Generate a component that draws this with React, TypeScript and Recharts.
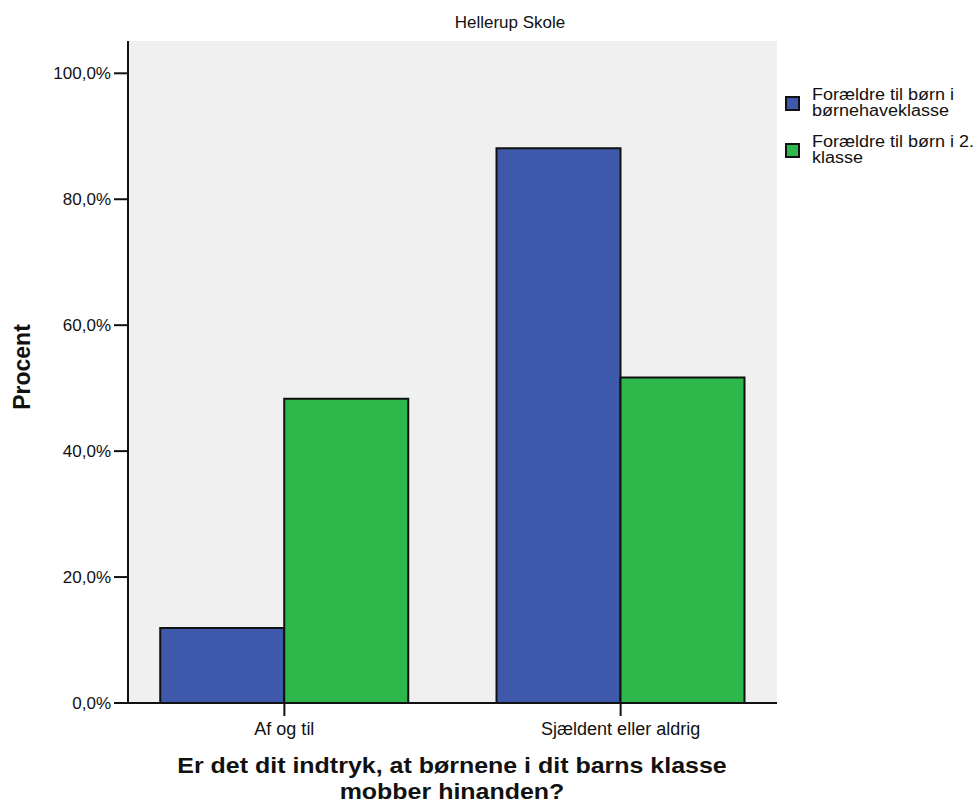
import React from "react";
import {
  BarChart,
  Bar,
  XAxis,
  YAxis,
  CartesianGrid,
  Legend,
} from "recharts";

// Data
const categories = ["Af og til", "Sjældent eller aldrig"];
const boernehaveklasse = [11.9, 88.1];
const andenKlasse = [48.3, 51.7];
const seriesNames = [
  "Forældre til børn i børnehaveklasse",
  "Forældre til børn i 2. klasse",
];
const yTicks = [0, 20, 40, 60, 80, 100];
const chartTitle = "Hellerup Skole";
const yTitle = "Procent";
const xTitle = ["Er det dit indtryk, at børnene i dit barns klasse", "mobber hinanden?"];

const FONT = '"Liberation Sans", Arial, sans-serif';
const BLUE = "#3e58ac";
const GREEN = "#2eb84b";

const data = categories.map((name, i) => ({
  pos: i + 1,
  name,
  bh: boernehaveklasse[i],
  k2: andenKlasse[i],
}));

const fmtPct = (v: number) => v.toFixed(1).replace(".", ",") + "%";

const LegendBox = (props: any) => {
  // keep the series order, not the alphabetical one
  const items = [...(props.payload || [])].sort(
    (a: any, b: any) => seriesNames.indexOf(a.value) - seriesNames.indexOf(b.value)
  );
  return (
    <div style={{ fontFamily: FONT, fontSize: 16, lineHeight: "16px", color: "#111" }}>
      {items.map((it: any) => (
        <div
          key={it.value}
          style={{ display: "flex", alignItems: "center", marginBottom: 15 }}
        >
          <div
            style={{
              width: 15,
              height: 15,
              boxSizing: "border-box",
              border: "2px solid #111",
              background: it.color,
              marginRight: 12,
              flexShrink: 0,
            }}
          />
          <div style={{ width: 152, transform: "scaleX(1.125)", transformOrigin: "left center" }}>
            {it.value}
          </div>
        </div>
      ))}
    </div>
  );
};

export default function App() {
  return (
    <div
      style={{
        position: "absolute",
        left: 0,
        top: 0,
        width: 979,
        height: 810,
        background: "#fff",
        fontFamily: FONT,
      }}
    >
      <div
        style={{
          position: "absolute",
          left: 510,
          top: 14,
          transform: "translateX(-50%)",
          fontSize: 17,
          lineHeight: "17px",
          whiteSpace: "nowrap",
          color: "#111",
        }}
      >
        {chartTitle}
      </div>
      <div
        style={{
          position: "absolute",
          left: 22,
          top: 367,
          transform: "translate(-50%, -50%) rotate(-90deg)",
          fontSize: 23,
          lineHeight: "23px",
          fontWeight: "bold",
          whiteSpace: "nowrap",
          color: "#111",
        }}
      >
        {yTitle}
      </div>
      <div
        style={{
          position: "absolute",
          left: 452,
          top: 753,
          transform: "translateX(-50%) scaleX(1.135)",
          fontSize: 22,
          lineHeight: "26px",
          fontWeight: "bold",
          textAlign: "center",
          whiteSpace: "nowrap",
          color: "#111",
        }}
      >
        {xTitle.map((t) => (
          <div key={t}>{t}</div>
        ))}
      </div>

      <BarChart
        width={979}
        height={810}
        data={data}
        margin={{ top: 41, right: 202, bottom: 67, left: 48 }}
        barGap={0}
        style={{ position: "absolute", left: 0, top: 0 }}
      >
        <CartesianGrid fill="#f0f0f0" horizontal={false} vertical={false} />
        <XAxis
          dataKey="pos"
          type="number"
          domain={[0.535, 2.465]}
          ticks={[1, 2]}
          allowDataOverflow
          tickFormatter={(v: number) => categories[v - 1] ?? ""}
          height={40}
          tickSize={13}
          tickMargin={6}
          axisLine={{ stroke: "#111", strokeWidth: 2 }}
          tickLine={{ stroke: "#111", strokeWidth: 2 }}
          tick={{ fill: "#111", fontSize: 18, fontFamily: FONT }}
        />
        <XAxis
          xAxisId="top"
          orientation="top"
          dataKey="pos"
          type="number"
          domain={[0.535, 2.465]}
          allowDataOverflow
          height={0}
          tick={false}
          tickLine={false}
          axisLine={{ stroke: "#6e6e6e", strokeWidth: 2 }}
        />
        <YAxis
          domain={[0, 105.13]}
          ticks={yTicks}
          allowDataOverflow
          tickFormatter={fmtPct}
          width={80}
          tickSize={14}
          tickMargin={3}
          axisLine={{ stroke: "#111", strokeWidth: 2 }}
          tickLine={{ stroke: "#111", strokeWidth: 2 }}
          tick={{ fill: "#111", fontSize: 17, fontFamily: FONT }}
        />
        <YAxis
          yAxisId="right"
          orientation="right"
          width={0}
          tick={false}
          tickLine={false}
          axisLine={{ stroke: "#111", strokeWidth: 2 }}
        />
        <Legend
          layout="vertical"
          align="center"
          verticalAlign="middle"
          content={<LegendBox />}
          wrapperStyle={{ left: 785, top: 87, width: 194, height: "auto" }}
        />
        <Bar
          dataKey="bh"
          name={seriesNames[0]}
          fill={BLUE}
          stroke="#111"
          strokeWidth={2}
          barSize={124}
          isAnimationActive={false}
        />
        <Bar
          dataKey="k2"
          name={seriesNames[1]}
          fill={GREEN}
          stroke="#111"
          strokeWidth={2}
          barSize={124}
          isAnimationActive={false}
        />
      </BarChart>
    </div>
  );
}
